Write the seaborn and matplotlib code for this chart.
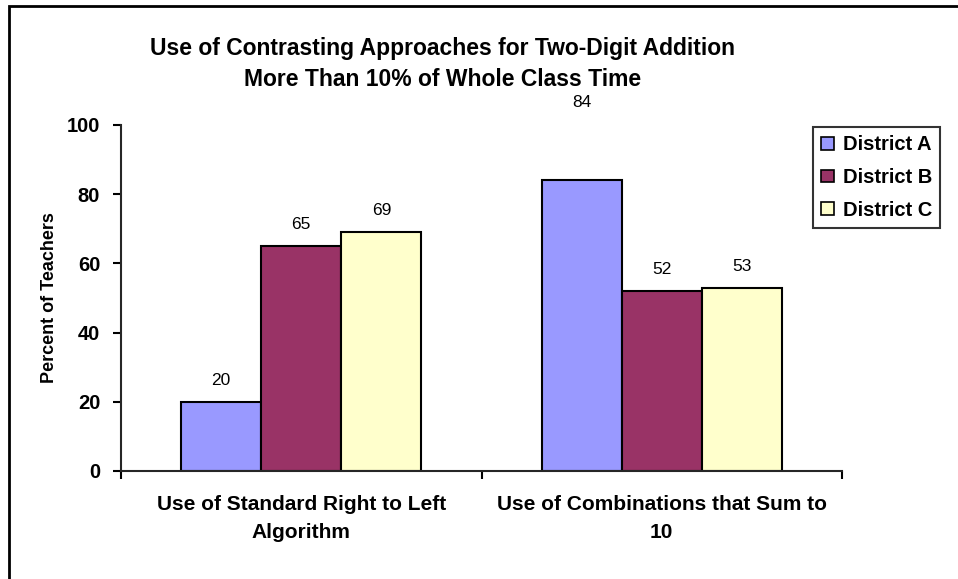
import pandas as pd
import seaborn as sns
import matplotlib.pyplot as plt
from matplotlib.patches import Rectangle

# data
approaches = ['Use of Standard Right to Left\nAlgorithm', 'Use of Combinations that Sum to\n10']
districts = ['District A', 'District B', 'District C']
district_a = [20, 84]
district_b = [65, 52]
district_c = [69, 53]
colors = ['#9999FF', '#993366', '#FFFFCC']

df = pd.DataFrame({
    'approach': approaches * 3,
    'district': [d for d in districts for _ in approaches],
    'pct': district_a + district_b + district_c,
})

sns.set_style('white')
plt.rcParams['font.family'] = ['Liberation Sans', 'DejaVu Sans']
plt.rcParams['text.color'] = 'black'
plt.rcParams['axes.labelcolor'] = 'black'
plt.rcParams['xtick.color'] = 'black'
plt.rcParams['ytick.color'] = 'black'

fig = plt.figure(figsize=(9.58, 5.79), dpi=100)
ax = fig.add_axes([121/958, 1-471/579, (842-121)/958, (471-125)/579])

sns.barplot(data=df, x='approach', y='pct', hue='district', palette=colors,
            width=0.667, edgecolor='black', linewidth=1.5, saturation=1, ax=ax)

# value labels (the 84 label sits well above its bar in the original)
a_bars = ax.containers[0]
ax.bar_label(a_bars, labels=[str(district_a[0]), ''], padding=10, fontsize=12.5)
ax.bar_label(a_bars, labels=['', str(district_a[1])], padding=51, fontsize=12.5)
for c in ax.containers[1:]:
    ax.bar_label(c, padding=10, fontsize=12.5)

ax.set_ylim(0, 100)
ax.set_xlim(-0.5, 1.5)
ax.set_yticks([0, 20, 40, 60, 80, 100])
ax.set_xticks([-0.5, 0.5, 1.5], minor=True)
ax.tick_params(axis='x', which='major', length=0, pad=17, labelsize=15)
ax.tick_params(axis='x', which='minor', length=6, width=1.5, direction='out', bottom=True)
ax.tick_params(axis='y', length=6, width=1.5, direction='out', left=True, labelsize=14.5, pad=9)
for lab in ax.get_xticklabels():
    lab.set_fontweight('bold')
    lab.set_linespacing(1.6)
for lab in ax.get_yticklabels():
    lab.set_fontweight('bold')
ax.set_xlabel('')
ax.set_ylabel('Percent of Teachers', fontsize=13, fontweight='bold', labelpad=6)
sns.despine(ax=ax)
ax.spines['left'].set_linewidth(1.5)
ax.spines['bottom'].set_linewidth(1.5)

fig.text(443/958, 1-64/579,
         'Use of Contrasting Approaches for Two-Digit Addition\nMore Than 10% of Whole Class Time',
         ha='center', va='center', fontsize=16.5, fontweight='bold', linespacing=1.45)

leg = ax.legend(loc='upper left', bbox_to_anchor=(813/958, 1-127/579),
                bbox_transform=fig.transFigure, frameon=True, fancybox=False,
                prop={'weight': 'bold', 'size': 14.5}, handlelength=0.6, handleheight=0.6,
                handletextpad=0.45, labelspacing=0.68, borderpad=0.42, borderaxespad=0)
leg.get_frame().set_edgecolor('black')
leg.get_frame().set_linewidth(1.5)
for h in leg.legend_handles:
    h.set_edgecolor('black')
    h.set_linewidth(1.2)

# outer chart border (only left and top visible)
fig.patches.append(Rectangle((8.5/958, -0.1), 1.2, 1.1 - 5.5/579,
                             transform=fig.transFigure, fill=False,
                             edgecolor='black', linewidth=2))

fig.savefig('out.png', dpi=100)
